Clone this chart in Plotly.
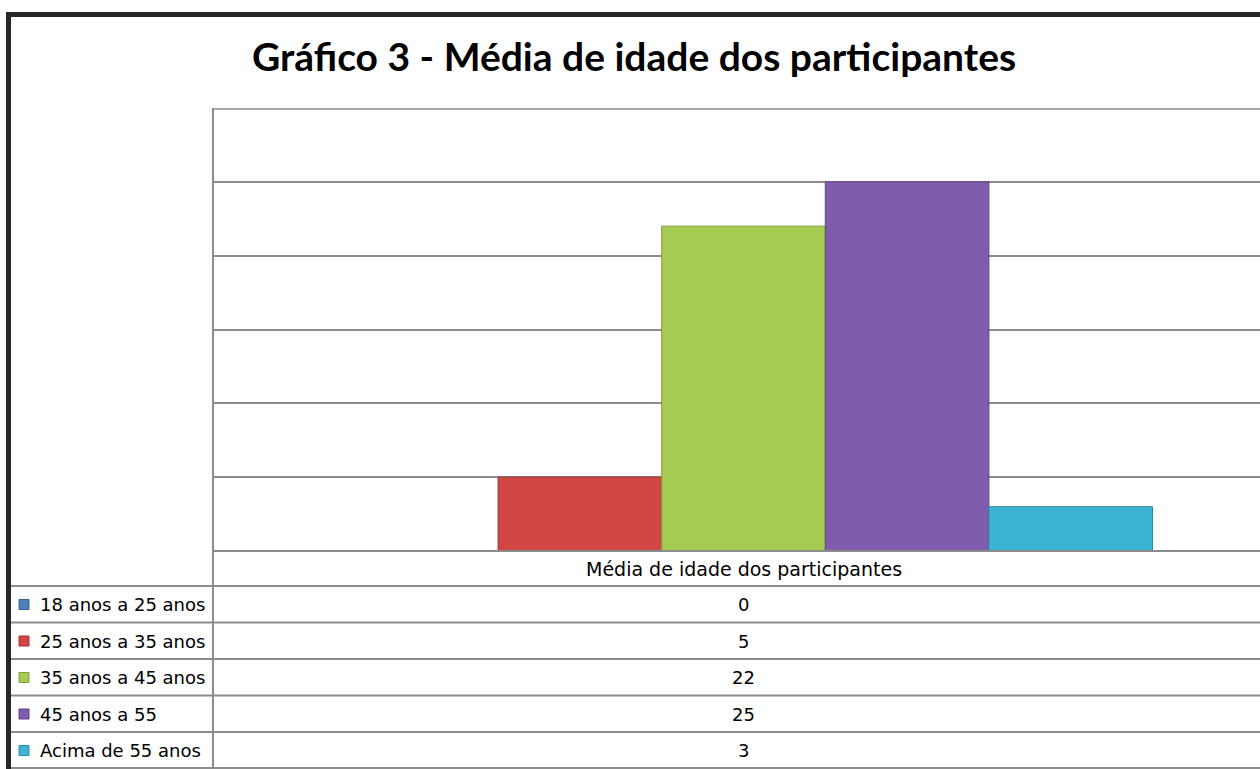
import plotly.graph_objects as go

W, H = 1260, 769

title = "Gráfico 3 - Média de idade dos participantes"
category = "Média de idade dos participantes"
series_names = ["18 anos a 25 anos", "25 anos a 35 anos", "35 anos a 45 anos", "45 anos a 55", "Acima de 55 anos"]
series_values = [0, 5, 22, 25, 3]
series_colors = ["#4F81BD", "#D04744", "#A5CB52", "#805CAC", "#3EB4D4"]
edge_colors = ["#3A6396", "#9E3532", "#7E9C3C", "#5E4382", "#2C8AA3"]

# pixel layout helpers
def px(x):
    return x / W

def py(y):
    return 1 - y / H

plot_left, plot_top, plot_bottom = 213, 108, 551
row_lines = [586, 622.5, 659, 695.5, 732, 768]
grid_col = "#8C8C8C"

fig = go.Figure()
for name, val, col, ec in zip(series_names, series_values, series_colors, edge_colors):
    fig.add_trace(go.Bar(
        x=[category], y=[val], name=name,
        marker=dict(color=col, line=dict(color=ec, width=1)),
        showlegend=False, hoverinfo="name+y",
    ))

# category axis positioned so the group centre sits at x≈743
dom_w = W - plot_left
centre_px = 743.5
r_total = 0.5 * dom_w / (centre_px - plot_left)
group_px = 818
bargap = 1 - group_px / dom_w * r_total

fig.update_layout(
    width=W, height=H,
    margin=dict(l=0, r=0, t=0, b=0),
    paper_bgcolor="white", plot_bgcolor="white",
    barmode="group", bargap=bargap, bargroupgap=0,
    xaxis=dict(domain=[px(plot_left), 1], range=[-0.5, r_total - 0.5],
               showticklabels=False, showgrid=False, zeroline=False, ticks=""),
    yaxis=dict(domain=[py(plot_bottom), py(plot_top)], range=[0, 30], dtick=5,
               showticklabels=False, showgrid=True, gridcolor=grid_col, gridwidth=1.5,
               zeroline=False, ticks="", showline=False),
    font=dict(family="DejaVu Sans", color="black"),
)

shapes = []
# outer dark frame (top and left)
shapes.append(dict(type="rect", xref="paper", yref="paper", x0=px(6), x1=1.01, y0=py(12), y1=py(17),
                   fillcolor="#262626", line=dict(width=0), layer="above"))
shapes.append(dict(type="rect", xref="paper", yref="paper", x0=px(6), x1=px(11), y0=-0.01, y1=py(12),
                   fillcolor="#262626", line=dict(width=0), layer="above"))
# plot area top border (lighter)
shapes.append(dict(type="line", xref="paper", yref="paper", x0=px(plot_left), x1=1, y0=py(plot_top + 1), y1=py(plot_top + 1),
                   line=dict(color="#A8A8A8", width=2)))
# vertical line at plot left, down through table
shapes.append(dict(type="line", xref="paper", yref="paper", x0=px(plot_left), x1=px(plot_left), y0=py(plot_top), y1=py(769),
                   line=dict(color=grid_col, width=2)))
# bottom axis line
shapes.append(dict(type="line", xref="paper", yref="paper", x0=px(plot_left), x1=1, y0=py(plot_bottom), y1=py(plot_bottom),
                   line=dict(color=grid_col, width=2)))
# table row lines
for yl in row_lines:
    shapes.append(dict(type="line", xref="paper", yref="paper", x0=px(11), x1=1, y0=py(yl), y1=py(yl),
                       line=dict(color=grid_col, width=2)))

annotations = [dict(text="<b>" + title + "</b>", x=px(634), y=py(56), xref="paper", yref="paper",
                    showarrow=False, xanchor="center", yanchor="middle",
                    font=dict(family="Lato", size=39, color="black"))]
annotations.append(dict(text=category, x=px(743.5), y=py(569), xref="paper", yref="paper",
                        showarrow=False, xanchor="center", yanchor="middle",
                        font=dict(family="DejaVu Sans", size=19, color="black")))

row_centres = [604.5, 641, 677.5, 714, 750.5]
for name, val, col, ec, yc in zip(series_names, series_values, series_colors, edge_colors, row_centres):
    shapes.append(dict(type="rect", xref="paper", yref="paper", x0=px(19), x1=px(29), y0=py(yc + 5), y1=py(yc - 5),
                       fillcolor=col, line=dict(color=ec, width=1)))
    annotations.append(dict(text=name, x=px(38), y=py(yc), xref="paper", yref="paper",
                            showarrow=False, xanchor="left", yanchor="middle",
                            font=dict(family="DejaVu Sans", size=18, color="black")))
    annotations.append(dict(text=str(val), x=px(743.5), y=py(yc), xref="paper", yref="paper",
                            showarrow=False, xanchor="center", yanchor="middle",
                            font=dict(family="DejaVu Sans", size=18, color="black")))

fig.update_layout(shapes=shapes, annotations=annotations)
fig.write_html("out.html", config={"displayModeBar": False},
               post_script="document.body.style.margin='0';document.body.style.overflow='hidden';")
